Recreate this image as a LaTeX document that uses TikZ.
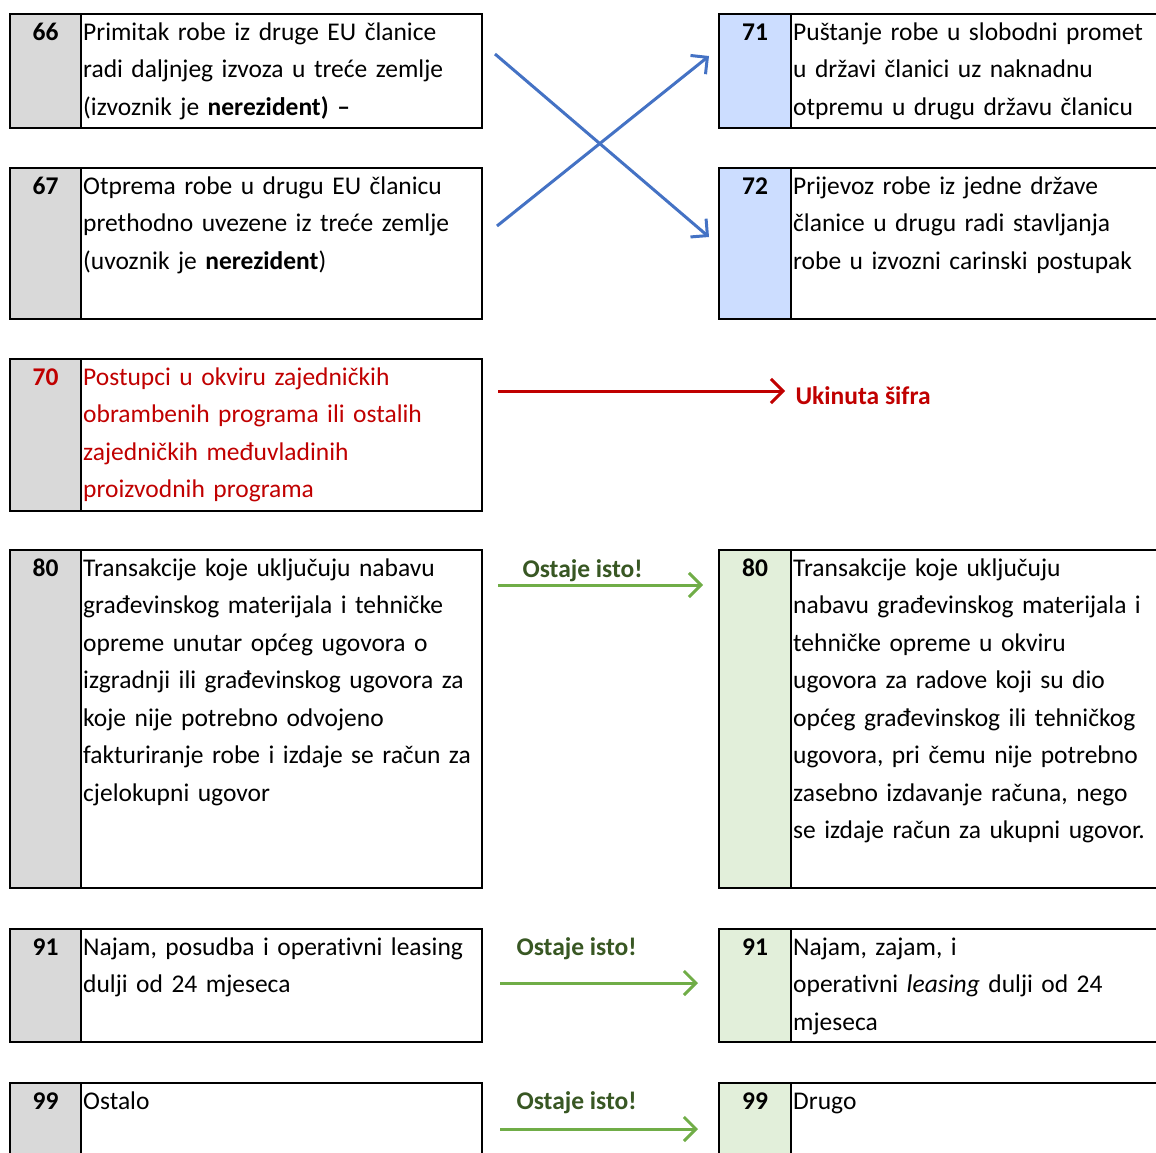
\documentclass[tikz,border=0pt]{standalone}
\usepackage{fontspec}
\setmainfont{Carlito}[RawFeature={-liga;-clig;-calt;-dlig}]
\usetikzlibrary{arrows.meta,positioning}
\definecolor{sivo}{HTML}{D9D9D9}
\definecolor{plavo}{HTML}{CCDDFF}
\definecolor{zeleno}{HTML}{E2EFDA}
\definecolor{plavastr}{HTML}{4472C4}
\definecolor{crveno}{HTML}{C00000}
\definecolor{zelenastr}{HTML}{70AD47}
\definecolor{tamnozeleno}{HTML}{385723}

\begin{document}
\begin{tikzpicture}[x=1pt,y=-1pt,
    every node/.style={font=\fontsize{25.5pt}{37.5pt}\selectfont},
    okvir/.style={draw, line width=2pt, inner sep=0pt, outer sep=0pt, anchor=north west, minimum width=472pt},
    sifra/.style={draw, line width=2pt, inner sep=0pt, outer sep=0pt, anchor=north west, minimum width=71pt, text height=26.25pt, font=\fontsize{25.5pt}{37.5pt}\selectfont\bfseries},
    opis/.style={inner sep=0pt, anchor=north west, align=left, text width=440pt},
    natpis/.style={anchor=base west, font=\fontsize{25.5pt}{37.5pt}\selectfont\bfseries},
    plavastrelica/.style={draw=plavastr, line width=3pt, -{Straight Barb[length=12pt,width=24pt]}},
    zelenastrelica/.style={draw=zelenastr, line width=3pt, -{Straight Barb[length=12pt,width=24pt]}},
    crvenastrelica/.style={draw=crveno, line width=3pt, -{Straight Barb[length=12pt,width=24pt]}}]

    \clip (0,0) rectangle (1156,1153);

    % lijevi stupac
    \node[okvir, minimum height=114pt] (r66) at (10,14) {};
    \node[sifra, fill=sivo, text depth=87.75pt] (n66) at (10,14) {66};
    \node[opis] (t66) at (83,14) {\strut Primitak robe iz druge EU članice\\
      radi daljnjeg izvoza u treće zemlje\\
      (izvoznik je \textbf{nerezident) –}};

    \node[okvir, minimum height=151pt] (r67) at (10,168) {};
    \node[sifra, fill=sivo, text depth=124.75pt] (n67) at (10,168) {67};
    \node[opis] (t67) at (83,168) {\strut Otprema robe u drugu EU članicu\\
      prethodno uvezene iz treće zemlje\\
      (uvoznik je \textbf{nerezident})};

    \node[okvir, minimum height=152pt] (r70) at (10,359) {};
    \node[sifra, fill=sivo, text depth=125.75pt, text=crveno] (n70) at (10,359) {70};
    \node[opis, text=crveno] (t70) at (83,359) {\strut Postupci u okviru zajedničkih\\
      obrambenih programa ili ostalih\\
      zajedničkih međuvladinih\\
      proizvodnih programa};

    \node[okvir, minimum height=338pt] (r80) at (10,550) {};
    \node[sifra, fill=sivo, text depth=311.75pt] (n80) at (10,550) {80};
    \node[opis] (t80) at (83,550) {\strut Transakcije koje uključuju nabavu\\
      građevinskog materijala i tehničke\\
      opreme unutar općeg ugovora o\\
      izgradnji ili građevinskog ugovora za\\
      koje nije potrebno odvojeno\\
      fakturiranje robe i izdaje se račun za\\
      cjelokupni ugovor};

    \node[okvir, minimum height=113pt] (r91) at (10,929) {};
    \node[sifra, fill=sivo, text depth=86.75pt] (n91) at (10,929) {91};
    \node[opis] (t91) at (83,929) {\strut Najam, posudba i operativni leasing\\
      dulji od 24 mjeseca};

    \node[okvir, minimum height=120pt] (r99) at (10,1083) {};
    \node[sifra, fill=sivo, text depth=93.75pt] (n99) at (10,1083) {99};
    \node[opis] (t99) at (83,1083) {\strut Ostalo};

    % desni stupac
    \node[okvir, minimum height=114pt] (r71) at (719,14) {};
    \node[sifra, fill=plavo, minimum width=72pt, text depth=87.75pt] (n71) at (719,14) {71};
    \node[opis] (t71) at (793,14) {\strut Puštanje robe u slobodni promet\\
      u državi članici uz naknadnu\\
      otpremu u drugu državu članicu};

    \node[okvir, minimum height=151pt] (r72) at (719,168) {};
    \node[sifra, fill=plavo, minimum width=72pt, text depth=124.75pt] (n72) at (719,168) {72};
    \node[opis] (t72) at (793,168) {\strut Prijevoz robe iz jedne države\\
      članice u drugu radi stavljanja\\
      robe u izvozni carinski postupak};

    \node[okvir, minimum height=338pt] (s80) at (719,550) {};
    \node[sifra, fill=zeleno, minimum width=72pt, text depth=311.75pt] (m80) at (719,550) {80};
    \node[opis] (u80) at (793,550) {\strut Transakcije koje uključuju\\
      nabavu građevinskog materijala i\\
      tehničke opreme u okviru\\
      ugovora za radove koji su dio\\
      općeg građevinskog ili tehničkog\\
      ugovora, pri čemu nije potrebno\\
      zasebno izdavanje računa, nego\\
      se izdaje račun za ukupni ugovor.};

    \node[okvir, minimum height=113pt] (s91) at (719,929) {};
    \node[sifra, fill=zeleno, minimum width=72pt, text depth=86.75pt] (m91) at (719,929) {91};
    \node[opis] (u91) at (793,929) {\strut Najam, zajam, i\\
      operativni \textit{leasing} dulji od 24\\
      mjeseca};

    \node[okvir, minimum height=120pt] (s99) at (719,1083) {};
    \node[sifra, fill=zeleno, minimum width=72pt, text depth=93.75pt] (m99) at (719,1083) {99};
    \node[opis] (u99) at (793,1083) {\strut Drugo};

    % strelice
    \coordinate (p66) at (495,54);
    \coordinate (k72) at (709,237);
    \coordinate (p67) at (497,226);
    \coordinate (k71) at (709,56);
    \draw[plavastrelica] (p66) -- (k72);
    \draw[plavastrelica] (p67) -- (k71);

    \coordinate (p70) at (498,391);
    \coordinate (k70) at (785,391);
    \node[natpis, text=crveno] (ukinuta) at (792,404) {Ukinuta šifra};
    \draw[crvenastrelica] (p70) -- (k70);

    \node[natpis, text=tamnozeleno] (isto80) at (519,577) {Ostaje isto!};
    \coordinate (p80) at (498,585);
    \coordinate (k80) at (703,585);
    \draw[zelenastrelica] (p80) -- (k80);

    \node[natpis, text=tamnozeleno] (isto91) at (513,955) {Ostaje isto!};
    \coordinate (p91) at (500,983);
    \coordinate (k91) at (698,983);
    \draw[zelenastrelica] (p91) -- (k91);

    \node[natpis, text=tamnozeleno] (isto99) at (513,1109) {Ostaje isto!};
    \coordinate (p99) at (500,1129);
    \coordinate (k99) at (698,1129);
    \draw[zelenastrelica] (p99) -- (k99);
\end{tikzpicture}
\end{document}
